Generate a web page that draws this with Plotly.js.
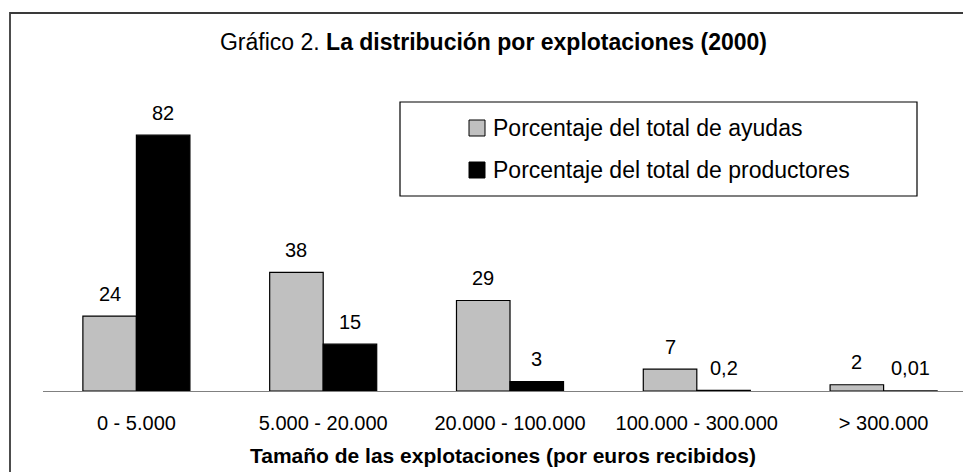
<!DOCTYPE html>
<html>
<head>
<meta charset="utf-8">
<script src="https://cdn.plot.ly/plotly-3.0.1.min.js"></script>
<style>
html,body{margin:0;padding:0;background:#fff;}
#chart{width:963px;height:472px;}
</style>
</head>
<body>
<div id="chart"></div>
<script>
// ---- data ----
const categories = ['0 - 5.000', '5.000 - 20.000', '20.000 - 100.000', '100.000 - 300.000', '> 300.000'];
const ayudas = [24, 38, 29, 7, 2];
const productores = [82, 15, 3, 0.2, 0.01];
const seriesNames = ['Porcentaje del total de ayudas', 'Porcentaje del total de productores'];
const seriesColors = ['#c0c0c0', '#000000'];
const chartTitle = 'Gráfico 2. <b>La distribución por explotaciones (2000)</b>';
const xTitle = '<b>Tamaño de las explotaciones (por euros recibidos)</b>';

// ---- layout geometry (pixels) ----
const W = 963, H = 472;
const mL = 43, mR = 0, mT = 60, mB = 81;
const plotW = W - mL - mR, plotH = H - mT - mB;
const px2x = p => (p - mL) / plotW;
const px2y = p => (H - mB - p) / plotH;
const FONT = 'Arial, "Liberation Sans", sans-serif';
const bargap = 0.427;
const half = (1 - bargap) / 4;

const fmt = v => String(v).replace('.', ',');

const traces = [ayudas, productores].map((vals, k) => ({
  type: 'bar',
  x: categories,
  y: vals,
  name: seriesNames[k],
  marker: {color: seriesColors[k], line: {color: '#000', width: 1.2}},
  showlegend: false,
  hoverinfo: 'skip'
}));

const annotations = [];
[ayudas, productores].forEach((vals, k) => {
  vals.forEach((v, i) => {
    annotations.push({
      xref: 'x', yref: 'y',
      x: i + (k === 0 ? -half : half), y: v,
      text: fmt(v), showarrow: false,
      yanchor: 'middle', yshift: 22.5,
      font: {family: FONT, size: 20, color: '#000'}
    });
  });
});

// manual legend
const shapes = [
  // outer frame
  {type: 'rect', xref: 'paper', yref: 'paper', x0: px2x(10), x1: px2x(W + 20), y0: px2y(13), y1: px2y(H + 20),
   line: {color: '#3a3a3a', width: 1.8}, fillcolor: 'rgba(0,0,0,0)', layer: 'above'},
  // legend box
  {type: 'rect', xref: 'paper', yref: 'paper', x0: px2x(400), x1: px2x(917), y0: px2y(102), y1: px2y(196),
   line: {color: '#000', width: 1.2}, fillcolor: '#fff', layer: 'above'}
];
const legendRows = [128, 170];
seriesNames.forEach((name, k) => {
  const cy = legendRows[k];
  shapes.push({type: 'rect', xref: 'paper', yref: 'paper',
    x0: px2x(469), x1: px2x(485), y0: px2y(cy - 8), y1: px2y(cy + 8),
    line: {color: '#000', width: 1}, fillcolor: seriesColors[k], layer: 'above'});
  annotations.push({xref: 'paper', yref: 'paper', x: px2x(491), y: px2y(cy),
    xanchor: 'left', yanchor: 'middle', showarrow: false, text: name,
    font: {family: FONT, size: 23, color: '#000'}});
});

const layout = {
  width: W, height: H,
  margin: {l: mL, r: mR, t: mT, b: mB, pad: 0},
  paper_bgcolor: '#fff', plot_bgcolor: '#fff',
  font: {family: FONT, color: '#000'},
  title: {text: chartTitle, x: 493.5 / W, xref: 'container', xanchor: 'center',
          y: 1 - 42 / H, yref: 'container', yanchor: 'middle',
          font: {family: FONT, size: 23, color: '#000'}},
  barmode: 'group', bargap: bargap, bargroupgap: 0,
  showlegend: false,
  xaxis: {type: 'category', range: [-0.5, 4.425], showline: true, linecolor: '#808080', linewidth: 1.2,
          ticks: '', showgrid: false, zeroline: false, fixedrange: true,
          ticklabelstandoff: 14,
          tickfont: {family: FONT, size: 20, color: '#000'},
          title: {text: xTitle, standoff: 15, font: {family: FONT, size: 21, color: '#000'}}},
  yaxis: {range: [0, plotH / 3.12], visible: false, showgrid: false, zeroline: false, fixedrange: true},
  annotations: annotations,
  shapes: shapes
};

Plotly.newPlot('chart', traces, layout, {staticPlot: true, displayModeBar: false});
</script>
</body>
</html>
